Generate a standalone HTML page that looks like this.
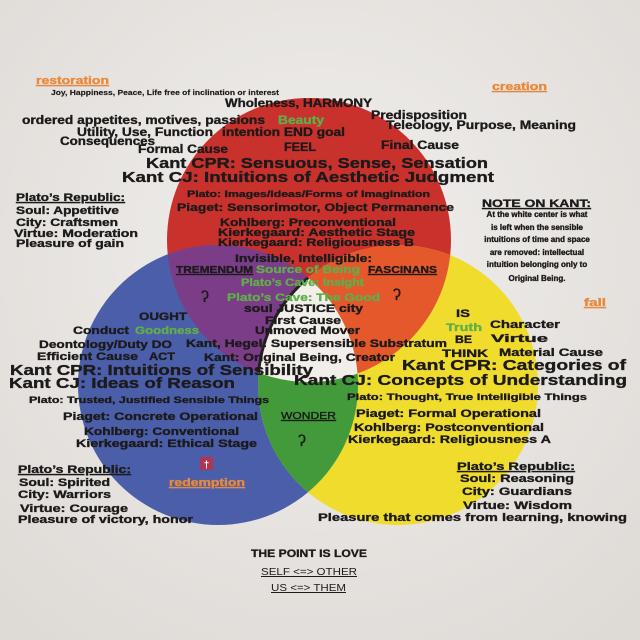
<!DOCTYPE html>
<html><head><meta charset="utf-8"><style>
html,body{margin:0;padding:0;background:#ebe8e5;}
svg{display:block}
text{font-family:"Liberation Sans",Arial,sans-serif;font-weight:bold;fill:#1c1a1a;stroke:#1c1a1a;stroke-width:0.35px;}
.g{fill:#5fae4a;stroke:#5fae4a}
.o{fill:#e8893c;stroke:#e8893c;text-decoration:underline}
.u{text-decoration:underline}
</style></head><body>
<svg width="640" height="640" viewBox="0 0 640 640" xmlns="http://www.w3.org/2000/svg">
<defs>
<radialGradient id="bg" cx="50%" cy="40%" r="75%"><stop offset="0" stop-color="#f1efec"/><stop offset="1" stop-color="#dedad6"/></radialGradient>
<clipPath id="cr"><circle cx="309" cy="240" r="142"/></clipPath>
<clipPath id="cb"><circle cx="218" cy="385" r="140"/></clipPath>
<clipPath id="cy"><circle cx="398" cy="385" r="140"/></clipPath>
</defs>
<rect width="640" height="640" fill="url(#bg)"/>
<circle cx="309" cy="240" r="142" fill="#c9312c"/>
<circle cx="218" cy="385" r="140" fill="#4a5ea9"/>
<circle cx="398" cy="385" r="140" fill="#f0dc2c"/>
<circle cx="218" cy="385" r="140" fill="#7b3c88" clip-path="url(#cr)"/>
<circle cx="398" cy="385" r="140" fill="#e4582b" clip-path="url(#cr)"/>
<circle cx="398" cy="385" r="140" fill="#429a3a" clip-path="url(#cb)"/>
<g clip-path="url(#cr)"><g clip-path="url(#cb)"><circle cx="398" cy="385" r="140" fill="#f2efeb" stroke="#222" stroke-width="3"/></g></g>

<text class="o" x="36" y="84" font-size="11" textLength="73" lengthAdjust="spacingAndGlyphs">restoration</text>
<text x="51" y="95" font-size="7" textLength="228" lengthAdjust="spacingAndGlyphs" style="stroke-width:0.15px">Joy, Happiness, Peace, Life free of inclination or interest</text>
<text class="o" x="492" y="90" font-size="11" textLength="55" lengthAdjust="spacingAndGlyphs">creation</text>
<text x="225" y="107" font-size="12" textLength="147" lengthAdjust="spacingAndGlyphs">Wholeness, HARMONY</text>
<text x="22" y="124" font-size="12" textLength="243" lengthAdjust="spacingAndGlyphs">ordered appetites, motives, passions</text>
<text class="g" x="278" y="124" font-size="12" textLength="46" lengthAdjust="spacingAndGlyphs">Beauty</text>
<text x="371" y="119" font-size="12" textLength="96" lengthAdjust="spacingAndGlyphs">Predisposition</text>
<text x="77" y="136" font-size="12" textLength="136" lengthAdjust="spacingAndGlyphs">Utility, Use, Function</text>
<text x="222" y="136" font-size="12" textLength="123" lengthAdjust="spacingAndGlyphs">intention END goal</text>
<text x="386" y="129" font-size="12" textLength="190" lengthAdjust="spacingAndGlyphs">Teleology, Purpose, Meaning</text>
<text x="60" y="145" font-size="12" textLength="95" lengthAdjust="spacingAndGlyphs">Consequences</text>
<text x="138" y="153" font-size="12" textLength="90" lengthAdjust="spacingAndGlyphs">Formal Cause</text>
<text x="284" y="151" font-size="12" textLength="32" lengthAdjust="spacingAndGlyphs">FEEL</text>
<text x="381" y="149" font-size="12" textLength="78" lengthAdjust="spacingAndGlyphs">Final Cause</text>
<text x="146" y="168" font-size="15" textLength="342" lengthAdjust="spacingAndGlyphs">Kant CPR: Sensuous, Sense, Sensation</text>
<text x="122" y="182" font-size="15" textLength="372" lengthAdjust="spacingAndGlyphs">Kant CJ: Intuitions of Aesthetic Judgment</text>

<text class="u" x="16" y="201" font-size="11" textLength="109" lengthAdjust="spacingAndGlyphs">Plato’s Republic:</text>
<text x="16" y="214" font-size="11" textLength="103" lengthAdjust="spacingAndGlyphs">Soul: Appetitive</text>
<text x="16" y="226" font-size="11" textLength="102" lengthAdjust="spacingAndGlyphs">City: Craftsmen</text>
<text x="14" y="237" font-size="11" textLength="124" lengthAdjust="spacingAndGlyphs">Virtue: Moderation</text>
<text x="16" y="247" font-size="11" textLength="108" lengthAdjust="spacingAndGlyphs">Pleasure of gain</text>

<text x="187" y="197" font-size="9" textLength="243" lengthAdjust="spacingAndGlyphs">Plato: Images/Ideas/Forms of Imagination</text>
<text x="177" y="211" font-size="11" textLength="277" lengthAdjust="spacingAndGlyphs">Piaget: Sensorimotor, Object Permanence</text>
<text x="220" y="226" font-size="11" textLength="176" lengthAdjust="spacingAndGlyphs">Kohlberg: Preconventional</text>
<text x="218" y="236" font-size="11" textLength="197" lengthAdjust="spacingAndGlyphs">Kierkegaard: Aesthetic Stage</text>
<text x="218" y="246" font-size="11" textLength="196" lengthAdjust="spacingAndGlyphs">Kierkegaard: Religiousness B</text>

<text class="u" x="482" y="207" font-size="11" textLength="109" lengthAdjust="spacingAndGlyphs">NOTE ON KANT:</text>
<g font-size="8" text-anchor="middle">
<text x="537" y="217">At the white center is what</text>
<text x="537" y="230">is left when the sensible</text>
<text x="537" y="242">intuitions of time and space</text>
<text x="537" y="255">are removed: intellectual</text>
<text x="537" y="267">intuition belonging only to</text>
<text x="537" y="281">Original Being.</text>
</g>

<text x="235" y="262" font-size="11" textLength="137" lengthAdjust="spacingAndGlyphs">Invisible, Intelligible:</text>
<text class="u" x="176" y="273" font-size="10" textLength="77" lengthAdjust="spacingAndGlyphs">TREMENDUM</text>
<text class="g" x="256" y="273" font-size="11" textLength="104" lengthAdjust="spacingAndGlyphs">Source of Being</text>
<text class="u" x="368" y="273" font-size="10" textLength="69" lengthAdjust="spacingAndGlyphs">FASCINANS</text>
<text class="g" x="241" y="286" font-size="11" textLength="123" lengthAdjust="spacingAndGlyphs">Plato’s Cave: Insight</text>
<text class="g" x="227" y="301" font-size="11" textLength="153" lengthAdjust="spacingAndGlyphs">Plato’s Cave: The Good</text>
<text x="201" y="302" font-size="16" style="font-weight:normal">ʔ</text>
<text x="393" y="300" font-size="16" style="font-weight:normal">ʔ</text>
<text x="244" y="312" font-size="11" textLength="119" lengthAdjust="spacingAndGlyphs">soul JUSTICE city</text>
<text x="265" y="324" font-size="11" textLength="76" lengthAdjust="spacingAndGlyphs">First Cause</text>
<text x="255" y="334" font-size="11" textLength="105" lengthAdjust="spacingAndGlyphs">Unmoved Mover</text>
<text class="o" x="584" y="306" font-size="11" textLength="22" lengthAdjust="spacingAndGlyphs">fall</text>

<text x="139" y="320" font-size="11" textLength="48" lengthAdjust="spacingAndGlyphs">OUGHT</text>
<text x="73" y="334" font-size="11" textLength="56" lengthAdjust="spacingAndGlyphs">Conduct</text>
<text class="g" x="135" y="334" font-size="11" textLength="64" lengthAdjust="spacingAndGlyphs">Goodness</text>
<text x="39" y="348" font-size="11" textLength="133" lengthAdjust="spacingAndGlyphs">Deontology/Duty DO</text>
<text x="186" y="347" font-size="11" textLength="261" lengthAdjust="spacingAndGlyphs">Kant, Hegel: Supersensible Substratum</text>
<text x="37" y="360" font-size="11" textLength="101" lengthAdjust="spacingAndGlyphs">Efficient Cause</text>
<text x="149" y="360" font-size="11" textLength="26" lengthAdjust="spacingAndGlyphs">ACT</text>
<text x="204" y="361" font-size="11" textLength="191" lengthAdjust="spacingAndGlyphs">Kant: Original Being, Creator</text>

<text x="456" y="317" font-size="11" textLength="14" lengthAdjust="spacingAndGlyphs">IS</text>
<text class="g" x="446" y="331" font-size="11" textLength="36" lengthAdjust="spacingAndGlyphs">Truth</text>
<text x="490" y="328" font-size="11" textLength="70" lengthAdjust="spacingAndGlyphs">Character</text>
<text x="455" y="343" font-size="11" textLength="17" lengthAdjust="spacingAndGlyphs">BE</text>
<text x="491" y="342" font-size="11" textLength="57" lengthAdjust="spacingAndGlyphs">Virtue</text>
<text x="442" y="357" font-size="11" textLength="46" lengthAdjust="spacingAndGlyphs">THINK</text>
<text x="499" y="356" font-size="11" textLength="104" lengthAdjust="spacingAndGlyphs">Material Cause</text>

<text x="10" y="375" font-size="15" textLength="303" lengthAdjust="spacingAndGlyphs">Kant CPR: Intuitions of Sensibility</text>
<text x="9" y="388" font-size="15" textLength="226" lengthAdjust="spacingAndGlyphs">Kant CJ: Ideas of Reason</text>
<text x="402" y="370" font-size="15" textLength="224" lengthAdjust="spacingAndGlyphs">Kant CPR: Categories of</text>
<text x="294" y="385" font-size="15" textLength="333" lengthAdjust="spacingAndGlyphs">Kant CJ: Concepts of Understanding</text>

<text x="29" y="403" font-size="9" textLength="240" lengthAdjust="spacingAndGlyphs">Plato: Trusted, Justified Sensible Things</text>
<text x="347" y="400" font-size="9" textLength="240" lengthAdjust="spacingAndGlyphs">Plato: Thought, True Intelligible Things</text>
<text x="63" y="420" font-size="11" textLength="195" lengthAdjust="spacingAndGlyphs">Piaget: Concrete Operational</text>
<text class="u" x="281" y="419" font-size="10" textLength="55" lengthAdjust="spacingAndGlyphs" style="font-weight:normal">WONDER</text>
<text x="356" y="417" font-size="11" textLength="185" lengthAdjust="spacingAndGlyphs">Piaget: Formal Operational</text>
<text x="84" y="435" font-size="11" textLength="155" lengthAdjust="spacingAndGlyphs">Kohlberg: Conventional</text>
<text x="354" y="431" font-size="11" textLength="190" lengthAdjust="spacingAndGlyphs">Kohlberg: Postconventional</text>
<text x="76" y="447" font-size="11" textLength="181" lengthAdjust="spacingAndGlyphs">Kierkegaard: Ethical Stage</text>
<text x="348" y="443" font-size="11" textLength="203" lengthAdjust="spacingAndGlyphs">Kierkegaard: Religiousness A</text>
<text x="298" y="446" font-size="16" style="font-weight:normal">ʔ</text>

<rect x="200" y="457" width="13" height="13" rx="2" fill="#b03552"/>
<text x="206.5" y="468" font-size="10" text-anchor="middle" style="fill:#fff;stroke:none">†</text>
<text class="o" x="169" y="486" font-size="11" textLength="76" lengthAdjust="spacingAndGlyphs">redemption</text>

<text class="u" x="18" y="473" font-size="11" textLength="113" lengthAdjust="spacingAndGlyphs">Plato’s Republic:</text>
<text x="19" y="486" font-size="11" textLength="91" lengthAdjust="spacingAndGlyphs">Soul: Spirited</text>
<text x="18" y="498" font-size="11" textLength="93" lengthAdjust="spacingAndGlyphs">City: Warriors</text>
<text x="20" y="512" font-size="11" textLength="108" lengthAdjust="spacingAndGlyphs">Virtue: Courage</text>
<text x="18" y="523" font-size="11" textLength="175" lengthAdjust="spacingAndGlyphs">Pleasure of victory, honor</text>

<text class="u" x="457" y="470" font-size="11" textLength="118" lengthAdjust="spacingAndGlyphs">Plato’s Republic:</text>
<text x="460" y="482" font-size="11" textLength="114" lengthAdjust="spacingAndGlyphs">Soul: Reasoning</text>
<text x="462" y="495" font-size="11" textLength="110" lengthAdjust="spacingAndGlyphs">City: Guardians</text>
<text x="463" y="509" font-size="11" textLength="109" lengthAdjust="spacingAndGlyphs">Virtue: Wisdom</text>
<text x="318" y="521" font-size="11" textLength="309" lengthAdjust="spacingAndGlyphs">Pleasure that comes from learning, knowing</text>

<text x="251" y="557" font-size="11" textLength="116" lengthAdjust="spacingAndGlyphs">THE POINT IS LOVE</text>
<text class="u" x="261" y="575" font-size="10" textLength="96" lengthAdjust="spacingAndGlyphs" style="font-weight:normal;stroke:none">SELF &lt;=&gt; OTHER</text>
<text class="u" x="271" y="591" font-size="10" textLength="75" lengthAdjust="spacingAndGlyphs" style="font-weight:normal;stroke:none">US &lt;=&gt; THEM</text>
</svg>
</body></html>
